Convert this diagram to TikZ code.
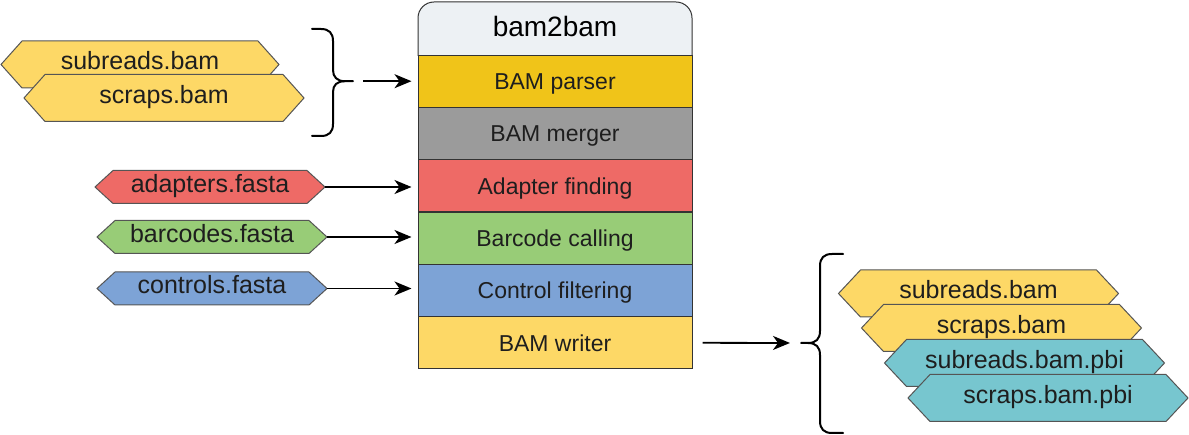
\documentclass[tikz,border=0pt]{standalone}
\usepackage{fontspec}
\setmainfont{Liberation Sans}
\usetikzlibrary{arrows.meta}
\definecolor{hdr}{HTML}{EDF1F4}
\definecolor{cparser}{HTML}{F0C419}
\definecolor{cmerger}{HTML}{9B9B9B}
\definecolor{cadapt}{HTML}{EE6A66}
\definecolor{cbarc}{HTML}{98CC77}
\definecolor{cctrl}{HTML}{7DA3D6}
\definecolor{cwriter}{HTML}{FDD866}
\definecolor{cfile}{HTML}{FDD866}
\definecolor{ccyan}{HTML}{77C6CF}
\definecolor{txt}{HTML}{1E1E1E}
\definecolor{edge}{HTML}{333333}
\definecolor{hexedge}{HTML}{555555}
\tikzset{
  rowbox/.style={draw=edge, line width=1pt, minimum width=274pt, minimum height=52.33pt, inner sep=0pt, text=txt, text height=17pt, text depth=0pt, font=\fontsize{23}{27}\selectfont},
  headtext/.style={text=black, inner sep=0pt, text height=20pt, text depth=4pt, font=\fontsize{28}{32}\selectfont},
  hexline/.style={draw=hexedge, line width=1pt},
  filetext/.style={text=txt, inner sep=0pt, text height=17pt, text depth=6pt, font=\fontsize{25}{29}\selectfont},
  arr/.style={line width=1.8pt, -{Stealth[length=17pt,width=14pt,inset=5pt]}},
  bracepath/.style={line width=2pt, line cap=round, line join=round}
}
\newcommand\hexfile[8]{% name, cx, cy, half width, half height, depth, colour, text
  \draw[hexline, fill=#7] (#2-#4,#3) -- (#2-#4+#6,#3-#5) -- (#2+#4-#6,#3-#5) -- (#2+#4,#3) -- (#2+#4-#6,#3+#5) -- (#2-#4+#6,#3+#5) -- cycle;
  \node[filetext] (#1) at (#2,#3) {#8};
  \coordinate (#1-e) at (#2+#4,#3);
}
\begin{document}
\begin{tikzpicture}[x=1pt, y=-1pt]
\useasboundingbox (0,0) rectangle (1189,435);
% header
\draw[draw=edge, line width=1pt, fill=hdr, rounded corners=16pt] (418,56) -- (418,2) -- (692,2) -- (692,56);
\node[headtext] (head) at (555,29) {bam2bam};
% rows
\node[rowbox, fill=cparser] (parser) at (555,81.2) {BAM parser};
\node[rowbox, fill=cmerger] (merger) at (555,133.5) {BAM merger};
\node[rowbox, fill=cadapt] (adapter) at (555,185.8) {Adapter finding};
\node[rowbox, fill=cbarc] (barcode) at (555,238.2) {Barcode calling};
\node[rowbox, fill=cctrl] (control) at (555,290.5) {Control filtering};
\node[rowbox, fill=cwriter] (writer) at (555,342.8) {BAM writer};
% top-left input files
\hexfile{insub}{140}{64.5}{139}{23.5}{21}{cfile}{subreads.bam}
\hexfile{inscr}{164}{98}{140}{23.5}{21}{cfile}{scraps.bam}
% fasta inputs
\hexfile{adapt}{210}{187}{115}{16.5}{18}{cadapt}{adapters.fasta}
\hexfile{barc}{212}{237}{115}{16.5}{18}{cbarc}{barcodes.fasta}
\hexfile{ctrl}{212}{288.5}{115}{16.5}{18}{cctrl}{controls.fasta}
% left brace
\coordinate (lbr) at (353,81.2);
\draw[bracepath] (312,29) -- (321,29) .. controls (329,29) and (333,33) .. (333,41) -- (333,70) .. controls (333,77) and (337,81.2) .. (345,81.2) -- (lbr);
\draw[bracepath] (312,136) -- (321,136) .. controls (329,136) and (333,132) .. (333,124) -- (333,92) .. controls (333,85) and (337,81.2) .. (345,81.2);
% arrows into stack
\draw[arr, shorten <=10pt, shorten >=6pt] (lbr) -- (parser.west);
\draw[arr, shorten >=6pt] (adapt-e) -- (adapt-e -| adapter.west);
\draw[arr, shorten >=6pt] (barc-e) -- (barc-e -| barcode.west);
\draw[arr, shorten >=6pt] (ctrl-e) -- (ctrl-e -| control.west);
% right brace
\coordinate (rbr) at (801,343);
\draw[bracepath] (843,254) -- (832,254) .. controls (824,254) and (820,258) .. (820,266) -- (820,331) .. controls (820,339) and (816,343) .. (808,343) -- (rbr);
\draw[bracepath] (843,433) -- (832,433) .. controls (824,433) and (820,429) .. (820,421) -- (820,355) .. controls (820,347) and (816,343) .. (808,343);
\draw[arr, shorten <=10pt, shorten >=11pt] (writer.east) -- (rbr);
% output files
\hexfile{outsub}{978.5}{293.5}{140}{23.5}{22}{cfile}{subreads.bam}
\hexfile{outscr}{1001.5}{328}{140}{23.5}{22}{cfile}{scraps.bam}
\hexfile{outsubp}{1024.5}{363}{140}{23.5}{22}{ccyan}{subreads.bam.pbi}
\hexfile{outscrp}{1048}{398}{140}{23.5}{22}{ccyan}{scraps.bam.pbi}
\end{tikzpicture}
\end{document}
